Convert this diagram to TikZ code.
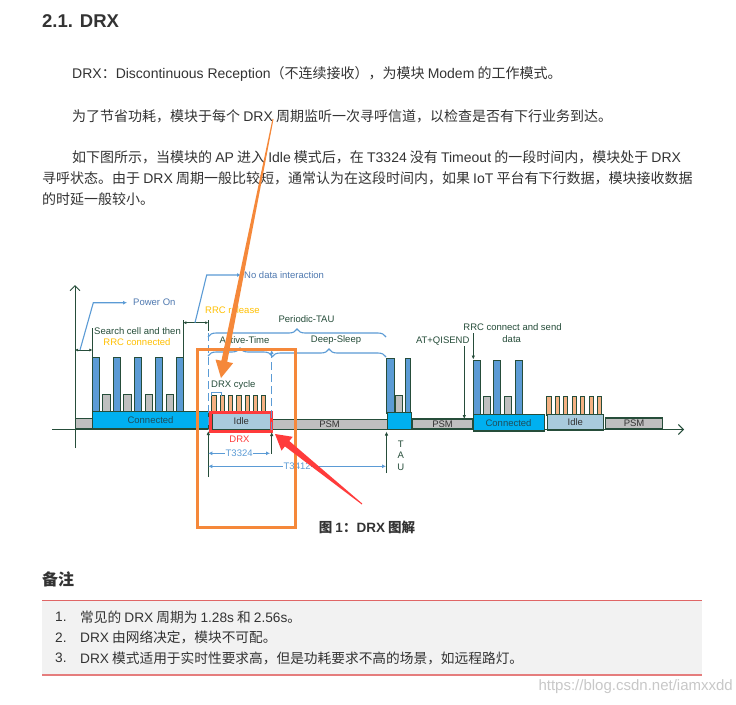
\documentclass[tikz,border=0pt]{standalone}
\usepackage{fontspec}
\setmainfont{Liberation Sans}
\newfontfamily\cjk{Noto Sans CJK SC}
\newfontfamily\lat{Liberation Sans}
\newcommand\en[1]{{\lat #1}}
\usetikzlibrary{arrows.meta,decorations.pathreplacing,calc}
\definecolor{dg}{HTML}{264D3A}
\definecolor{conntext}{HTML}{1F4E5A}
\definecolor{cyanb}{HTML}{00B0F0}
\definecolor{barblue}{HTML}{5B9BD5}
\definecolor{grayb}{HTML}{BFBFBF}
\definecolor{idleb}{HTML}{A9CBDD}
\definecolor{orbar}{HTML}{F4B183}
\definecolor{ortext}{HTML}{FFC000}
\definecolor{lblue}{HTML}{5B9BD5}
\definecolor{tblue}{HTML}{4F79B0}
\definecolor{redc}{HTML}{FF3B3B}
\definecolor{orarrow}{HTML}{F5883A}
\definecolor{bodyc}{HTML}{333333}
\definecolor{notebg}{HTML}{F2F2F2}
\definecolor{notered}{HTML}{E06666}
\definecolor{wmc}{HTML}{C8C8C8}
\tikzset{
  body/.style={anchor=west, inner sep=0, text=bodyc, font=\cjk\fontsize{14}{16}\selectfont},
  notetext/.style={anchor=west, inner sep=0, text=bodyc, font=\cjk\fontsize{13.7}{16}\selectfont},
  blk/.style={draw=dg, line width=1.1pt, inner sep=0, anchor=south west, font=\fontsize{9.5}{11}\selectfont},
  barbox/.style={draw=dg, line width=0.8pt},
  lab/.style={inner sep=0, font=\fontsize{9.5}{11}\selectfont, text=dg},
  dgline/.style={draw=dg, line width=0.9pt},
  dgarrow/.style={draw=dg, line width=0.9pt, -{Latex[length=4pt,width=3.5pt]}},
  dgdouble/.style={draw=dg, line width=0.9pt, {Latex[length=3pt,width=3pt]}-{Latex[length=3pt,width=3pt]}},
  bluearrow/.style={draw=lblue, line width=1.1pt, -{Latex[length=4pt,width=4pt]}},
  dimarr/.style={draw=lblue, line width=1.1pt, {Latex[length=4pt,width=4pt]}-{Latex[length=4pt,width=4pt]}},
  dimlab/.style={inner sep=0.5pt, fill=white, text=lblue, font=\fontsize{9.5}{11}\selectfont},
  bracestyle/.style={draw=lblue, line width=1.1pt, decorate, decoration={brace, amplitude=8pt}},
  dashline/.style={draw=lblue, line width=1pt, dash pattern=on 8pt off 4pt},
  axisline/.style={draw=dg, line width=0.9pt, -{Straight Barb[length=5pt,width=10pt]}}
}
\begin{document}
\begin{tikzpicture}[x=1pt,y=-1pt]
\useasboundingbox[fill=white] (0,0) rectangle (736,704);

% ---------- text of the page ----------
\node[anchor=west, inner sep=0, text=bodyc, font=\bfseries\fontsize{18.5}{20}\selectfont] (title) at (42,21) {2.1. DRX};
\node[body] (p1) at (72,74) {\en{DRX}：\en{Discontinuous Reception}（不连续接收），为模块 \en{Modem} 的工作模式。};
\node[body] (p2) at (72,116) {为了节省功耗，模块于每个 \en{DRX} 周期监听一次寻呼信道，以检查是否有下行业务到达。};
\node[body] (p3a) at (72,157) {如下图所示，当模块的 \en{AP} 进入 \en{Idle} 模式后，在 \en{T3324} 没有 \en{Timeout} 的一段时间内，模块处于 \en{DRX}};
\node[body] (p3b) at (42,178.5) {寻呼状态。由于 \en{DRX} 周期一般比较短，通常认为在这段时间内，如果 \en{IoT} 平台有下行数据，模块接收数据};
\node[body] (p3c) at (42,199) {的时延一般较小。};

\node[anchor=center, inner sep=0, text=bodyc, font=\cjk\bfseries\fontsize{13.5}{15}\selectfont] (caption) at (367,527) {图 \en{1}：\en{DRX} 图解};

\node[anchor=west, inner sep=0, text=bodyc, font=\cjk\bfseries\fontsize{16}{18}\selectfont] (notes) at (42,579) {备注};
\fill[notebg] (42,600) rectangle (702,675);
\draw[notered, line width=1pt] (42,600) -- (702,600);
\draw[notered!85, line width=2pt] (42,675) -- (702,675);
\node[notetext] (n1) at (55,617) {\en{1.}};
\node[notetext] (n1t) at (80,617) {常见的 \en{DRX} 周期为 \en{1.28s} 和 \en{2.56s}。};
\node[notetext] (n2) at (55,637.5) {\en{2.}};
\node[notetext] (n2t) at (80,637.5) {\en{DRX} 由网络决定，模块不可配。};
\node[notetext] (n3) at (55,658) {\en{3.}};
\node[notetext] (n3t) at (80,658) {\en{DRX} 模式适用于实时性要求高，但是功耗要求不高的场景，如远程路灯。};

\node[anchor=east, inner sep=0, text=wmc, font=\fontsize{15}{17}\selectfont] (wm) at (733,687) {https://blog.csdn.net/iamxxdd};

% ---------- axes ----------
\coordinate (axL) at (52,429.5);
\coordinate (axR) at (684,429.5);
\coordinate (ayB) at (75,448);
\coordinate (ayT) at (75,285);
\draw[axisline] (axL) -- (axR);
\draw[axisline] (ayB) -- (ayT);

% ---------- bars ----------
\foreach \x in {92.3,113.3,134.7,155.7,176.7}
  \draw[barbox, fill=barblue] (\x,412) rectangle ++(7,-54.7);
\foreach \x in {102.7,123.7,145,166}
  \draw[barbox, fill=grayb] (\x,412) rectangle ++(7.3,-17.7);
\foreach \i in {0,...,6}
  \draw[barbox, fill=orbar] ({211.7+8.3*\i},413.3) rectangle ++(4.3,-17.6);
\draw[barbox, fill=barblue] (386.7,413) rectangle (394,358.3);
\draw[barbox, fill=grayb] (395,413) rectangle (402.3,395);
\draw[barbox, fill=barblue] (405,413) rectangle (410,358.3);
\foreach \x in {473.3,493.3,515}
  \draw[barbox, fill=barblue] (\x,415) rectangle ++(7.3,-55);
\foreach \x in {483.3,504.3}
  \draw[barbox, fill=grayb] (\x,415) rectangle ++(7,-18.3);
\foreach \i in {0,...,6}
  \draw[barbox, fill=orbar] ({546.7+8.44*\i},415) rectangle ++(4.2,-19);

% ---------- blocks ----------
\node[blk, fill=grayb, minimum width=17pt, minimum height=10.5pt] (gray0) at (75,429.5) {};
\node[blk, fill=cyanb, text=conntext, minimum width=116pt, minimum height=17.5pt] (conn1) at (92,429.5) {Connected};
\node[blk, fill=idleb, text=bodyc, minimum width=58.5pt, minimum height=17pt] (idle1) at (211.5,430.5) {Idle};
\node[blk, fill=grayb, text=bodyc, minimum width=115pt, minimum height=10pt] (psm1) at (271.5,430) {PSM};
\node[blk, fill=cyanb, minimum width=24pt, minimum height=17pt] (tau) at (386.5,430) {};
\node[blk, fill=grayb, text=bodyc, minimum width=60pt, minimum height=10pt] (psm2) at (412,429.5) {PSM};
\node[blk, fill=cyanb, text=conntext, minimum width=71pt, minimum height=16.5pt] (conn2) at (472.5,431.5) {Connected};
\node[blk, fill=idleb, text=bodyc, minimum width=56.5pt, minimum height=15.5pt] (idle2) at (546.5,430.5) {Idle};
\node[blk, fill=grayb, text=bodyc, minimum width=57pt, minimum height=10.5pt] (psm3) at (605,429) {PSM};
\draw[redc, line width=3pt] (210.5,412.5) rectangle (271.5,431.5);

% ---------- labels ----------
\node[lab, anchor=west] (search) at (94,331) {Search cell and then};
\node[lab, text=ortext] (rrcconn) at (137,342) {RRC connected};
\node[lab, text=tblue, anchor=west] (poweron) at (133,302.5) {Power On};
\node[lab, text=tblue, anchor=west] (nodata) at (244,275) {No data interaction};
\node[lab, text=ortext, anchor=west] (rrcrel) at (205,310) {RRC release};
\node[lab] (ptau) at (306.5,319.3) {Periodic-TAU};
\node[lab] (active) at (244.5,340) {Active-Time};
\node[lab] (deep) at (336,340) {Deep-Sleep};
\node[lab, anchor=west] (drxcyc) at (211,385) {DRX cycle};
\node[lab, text=redc] (drxlab) at (239.5,439.5) {DRX};
\node[lab] (tauT) at (400.7,444) {T};
\node[lab] (tauA) at (400.7,455.5) {A};
\node[lab] (tauU) at (400.7,467) {U};
\node[lab] (atq) at (442.7,340.7) {AT+QISEND};
\node[lab] (rrcsend) at (512.5,327.3) {RRC connect and send};
\node[lab] (rrcdata) at (511.7,339.3) {data};

% ---------- connectors ----------
\coordinate (sc1) at (92.3,328);
\coordinate (sc2) at (92.3,357.3);
\draw[dgline] (sc1) -- (sc2);
\coordinate (pw1) at (75,350);
\coordinate (pw2) at (92.3,350);
\draw[dgdouble] (pw1) -- (pw2);
\coordinate (pwa) at (80,350);
\coordinate (pwb) at (93.3,302.7);
\coordinate (pwc) at (127,302.7);
\draw[bluearrow] (pwa) -- (pwb) -- (pwc);

\coordinate (rr1) at (183.3,320);
\coordinate (rr2) at (183.3,357.3);
\draw[dgline] (rr1) -- (rr2);
\coordinate (rr3) at (208.3,320);
\coordinate (rr4) at (208.3,331);
\draw[dgline] (rr3) -- (rr4);
\coordinate (rd1) at (183.3,322.7);
\coordinate (rd2) at (208.3,322.7);
\draw[dgdouble] (rd1) -- (rd2);
\coordinate (nd1) at (195,322.7);
\coordinate (nd2) at (206.7,275);
\coordinate (nd3) at (241,275);
\draw[bluearrow] (nd1) -- (nd2) -- (nd3);

\coordinate (dl1) at (208.3,333);
\coordinate (dl2) at (208.3,430);
\draw[dashline] (dl1) -- (dl2);
\coordinate (dr1) at (271.7,430);
\coordinate (dr2) at (271.7,350);
\draw[dashline, -{Latex[length=4pt,width=4pt]}] (dr1) -- (dr2);

\coordinate (up1a) at (208.3,477);
\coordinate (up1b) at (208.3,431);
\draw[dgarrow] (up1a) -- (up1b);
\coordinate (up2a) at (271.7,453.5);
\coordinate (up2b) at (271.7,432);
\draw[dgarrow] (up2a) -- (up2b);
\coordinate (up3a) at (386.5,473);
\coordinate (up3b) at (386.5,431.5);
\draw[dgarrow] (up3a) -- (up3b);

\coordinate (t1a) at (208.3,453.3);
\coordinate (t1b) at (270,453.3);
\draw[dimarr] (t1a) -- node[dimlab] (t3324) {T3324} (t1b);
\coordinate (t2a) at (208.3,466.3);
\coordinate (t2b) at (386,466.3);
\draw[dimarr] (t2a) -- node[dimlab] (t3412) {T3412} (t2b);

\coordinate (aq1) at (464.3,346);
\coordinate (aq2) at (464.3,419);
\draw[dgarrow] (aq1) -- (aq2);
\coordinate (rs1) at (473.3,333);
\coordinate (rs2) at (473.3,359.5);
\draw[dgarrow] (rs1) -- (rs2);

% DRX cycle small bracket
\draw[lblue, line width=0.8pt] (211.7,396) -- (211.7,392.7) -- (221.7,392.7) -- (221.7,396);

% braces
\coordinate (br1a) at (208,337);
\coordinate (br1b) at (386,337);
\draw[bracestyle] (br1a) -- (br1b);
\coordinate (br2a) at (208,356);
\coordinate (br2b) at (272,356);
\draw[bracestyle] (br2a) -- (br2b);
\coordinate (br3a) at (272,357);
\coordinate (br3b) at (386,357);
\draw[bracestyle] (br3a) -- (br3b);

% ---------- highlight box and arrows ----------
\draw[orarrow, line width=3pt] (197.5,349.5) rectangle (295,527.5);
\fill[orarrow] (272.5,118.9) -- (273.5,119.1) -- (227.2,361.9) -- (233.1,363.1) -- (221,378) -- (215.5,359.5) -- (221.4,360.7) -- cycle;
\fill[redc] (361.7,504.4) -- (284.9,446.4) -- (281.5,450.6) -- (275,434) -- (292.7,436.8) -- (289.3,441.0) -- (362.3,503.6) -- cycle;
\end{tikzpicture}
\end{document}
